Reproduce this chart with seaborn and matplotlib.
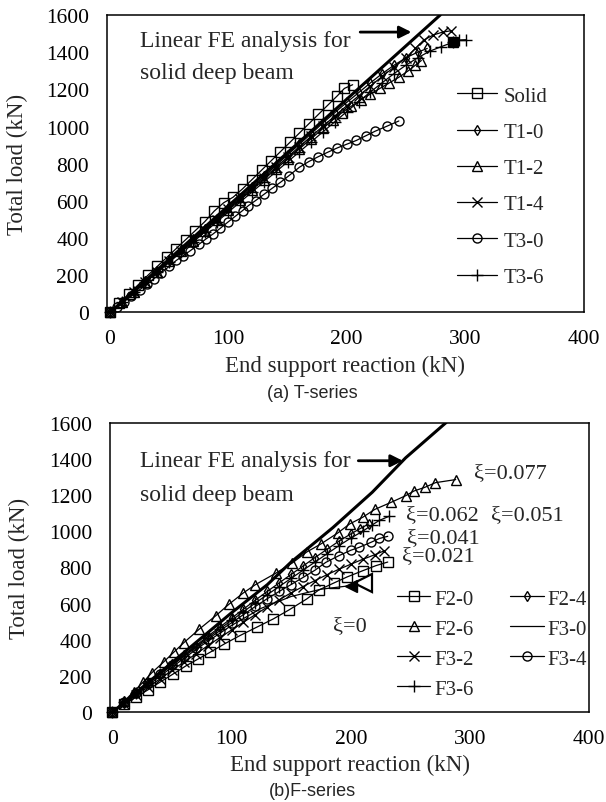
import matplotlib
matplotlib.use("Agg")
import matplotlib.pyplot as plt
import seaborn as sns
import pandas as pd

sns.set_theme(style="white")
plt.rcParams['font.family'] = ['Liberation Serif', 'DejaVu Serif']

# ---------------- T-series data ----------------
fe_top_x = [0, 279]
fe_top_y = [0, 1600]

solid_x = [0, 8, 16, 24, 32, 40, 48, 56, 64, 72, 80, 88, 96, 104, 112, 120, 128, 136, 144, 152, 160, 168, 176, 184, 192, 198, 205]
solid_y = [0, 50, 100, 150, 200, 248, 296, 344, 392, 440, 488, 545, 590, 620, 665, 715, 765, 815, 865, 915, 965, 1015, 1065, 1115, 1165, 1205, 1225]

t10_x = [0, 10, 20, 30, 40, 50, 60, 70, 80, 90, 100, 110, 120, 130, 140, 150, 160, 170, 180, 190, 200, 210, 220, 230, 240, 250, 260, 268]
t10_y = [0, 56, 112, 168, 224, 282, 338, 394, 450, 505, 562, 618, 675, 732, 790, 848, 905, 962, 1020, 1075, 1130, 1182, 1235, 1285, 1330, 1370, 1400, 1420]

t12_x = [0, 10, 20, 30, 40, 50, 60, 70, 80, 90, 100, 110, 120, 130, 140, 150, 160, 170, 180, 188, 196, 204, 212, 220, 228, 236, 244, 252, 258, 263]
t12_y = [0, 55, 110, 164, 220, 275, 330, 385, 440, 495, 550, 605, 660, 715, 770, 825, 880, 935, 990, 1035, 1075, 1110, 1145, 1175, 1205, 1235, 1265, 1300, 1330, 1355]

t14_x = [0, 10, 20, 30, 40, 50, 60, 70, 80, 90, 100, 110, 120, 130, 140, 150, 160, 170, 180, 190, 200, 210, 220, 230, 240, 250, 258, 265, 273, 281, 288]
t14_y = [0, 55, 110, 165, 220, 276, 332, 388, 444, 500, 556, 612, 668, 724, 780, 836, 892, 948, 1002, 1058, 1112, 1165, 1218, 1270, 1320, 1370, 1420, 1465, 1492, 1508, 1515]

t30_x = [0, 6, 12, 18, 25, 31, 37, 43, 50, 56, 62, 68, 75, 81, 87, 93, 100, 106, 112, 117, 123, 130, 137, 144, 151, 160, 168, 176, 184, 192, 200, 208, 216, 224, 234, 244]
t30_y = [0, 30, 59, 88, 122, 152, 181, 212, 248, 280, 306, 333, 366, 395, 422, 452, 488, 518, 548, 575, 602, 635, 668, 700, 735, 781, 812, 838, 862, 885, 905, 925, 950, 975, 1002, 1030]

t36_x = [0, 10, 20, 30, 40, 50, 60, 70, 80, 90, 100, 110, 120, 130, 140, 150, 160, 170, 180, 190, 200, 210, 220, 230, 240, 250, 260, 270, 280, 290, 295, 301]
t36_y = [0, 54, 108, 162, 216, 270, 324, 378, 432, 486, 540, 594, 648, 702, 756, 810, 864, 918, 972, 1026, 1080, 1134, 1186, 1236, 1285, 1330, 1370, 1405, 1430, 1454, 1465, 1467]

# ---------------- F-series data ----------------
fe_bot_x = [0, 50, 100, 130, 150, 185, 218, 246, 280]
fe_bot_y = [0, 275, 550, 705, 830, 1020, 1215, 1405, 1600]

f20_x = [0, 10, 20, 30, 40, 51, 62, 72, 82, 94, 107, 121, 135, 148, 163, 173, 186, 197, 210, 221, 231]
f20_y = [0, 45, 85, 125, 167, 212, 258, 295, 332, 378, 424, 470, 516, 565, 626, 675, 715, 748, 782, 810, 830]

f24_x = [0, 10, 20, 30, 40, 50, 60, 70, 80, 90, 100, 110, 120, 130, 140, 150, 160, 170, 180, 190, 200, 208, 215]
f24_y = [0, 54, 108, 160, 212, 265, 318, 368, 420, 470, 520, 570, 620, 668, 715, 762, 808, 855, 900, 945, 985, 1015, 1040]

f26_x = [0, 10, 18, 26, 33, 43, 52, 60, 73, 87, 98, 110, 120, 137, 151, 163, 175, 189, 199, 210, 220, 234, 246, 253, 262, 271, 288]
f26_y = [0, 62, 115, 168, 218, 278, 335, 385, 460, 535, 598, 660, 705, 768, 825, 885, 930, 990, 1040, 1077, 1120, 1160, 1196, 1222, 1242, 1268, 1285]

f30_x = [0, 25, 50, 75, 100, 125, 150, 175, 200, 210]
f30_y = [0, 125, 250, 370, 480, 575, 640, 680, 700, 715]

f32_x = [0, 10, 20, 30, 40, 50, 60, 70, 80, 90, 100, 110, 120, 130, 140, 150, 160, 170, 180, 190, 200, 210, 220, 228]
f32_y = [0, 48, 95, 140, 185, 232, 278, 322, 368, 412, 455, 498, 540, 582, 622, 660, 695, 728, 760, 790, 818, 845, 870, 892]

f34_x = [0, 10, 20, 30, 40, 50, 60, 70, 80, 90, 100, 110, 120, 130, 140, 150, 160, 170, 179, 190, 200, 207, 217, 224, 231]
f34_y = [0, 55, 108, 160, 210, 260, 308, 356, 403, 450, 495, 540, 585, 628, 668, 706, 745, 785, 828, 865, 895, 911, 939, 960, 972]

f36_x = [0, 10, 20, 30, 40, 50, 60, 70, 80, 90, 100, 110, 120, 130, 140, 150, 160, 170, 180, 190, 200, 210, 218, 224, 232]
f36_y = [0, 55, 110, 160, 212, 262, 313, 363, 412, 460, 508, 556, 604, 650, 695, 740, 785, 830, 875, 920, 962, 1000, 1035, 1060, 1082]

xi_labels = ["ξ=0.077", "ξ=0.062", "ξ=0.051", "ξ=0.041", "ξ=0.021", "ξ=0"]
xi_x = [303, 246, 318, 247, 243, 185]
xi_y = [1325, 1095, 1095, 966, 865, 479]

x_ticks = [0, 100, 200, 300, 400]
y_ticks = [0, 200, 400, 600, 800, 1000, 1200, 1400, 1600]

fig = plt.figure(figsize=(6.06, 8.03), dpi=100)
ax1 = fig.add_axes([0.1766, 0.6096, 0.7863, 0.3705])
ax2 = fig.add_axes([0.1815, 0.1115, 0.7909, 0.3611])

MS = 6.5
LW = 0.9


def series(ax, x, y, marker, label, ms=MS, lw=LW):
    df = pd.DataFrame({"x": x, "y": y})
    sns.lineplot(data=df, x="x", y="y", ax=ax, sort=False, estimator=None,
                 color="black", lw=lw, marker=marker if marker else None,
                 markersize=ms, markerfacecolor="none", markeredgecolor="black",
                 markeredgewidth=1.0, label=label, clip_on=False)


# top panel
series(ax1, solid_x, solid_y, "s", "Solid")
series(ax1, t10_x, t10_y, "d", "T1-0", ms=5.5)
series(ax1, t12_x, t12_y, "^", "T1-2", ms=7)
series(ax1, t14_x, t14_y, "x", "T1-4")
series(ax1, t30_x, t30_y, "o", "T3-0")
series(ax1, t36_x, t36_y, "+", "T3-6", ms=9)
sns.lineplot(x=fe_top_x, y=fe_top_y, ax=ax1, color="black", lw=2.2, legend=False)
ax1.plot([t36_x[-3]], [t36_y[-3]], marker="s", ms=6.5, color="black")

# bottom panel
series(ax2, f20_x, f20_y, "s", "F2-0")
series(ax2, f26_x, f26_y, "^", "F2-6", ms=7)
series(ax2, f32_x, f32_y, "x", "F3-2")
series(ax2, f36_x, f36_y, "+", "F3-6", ms=9)
series(ax2, f24_x, f24_y, "d", "F2-4", ms=5.5)
series(ax2, f30_x, f30_y, None, "F3-0")
series(ax2, f34_x, f34_y, "o", "F3-4")
sns.lineplot(x=fe_bot_x, y=fe_bot_y, ax=ax2, color="black", lw=2.2, legend=False)
ax2.plot([f30_x[-1]], [f30_y[-1]], marker="<", ms=13, mfc="white", mec="black", mew=1.6)
ax2.plot([f30_x[-2]], [f30_y[-2]], marker="<", ms=8, color="black")

for ax, xl in ((ax1, (-2.5, 400)), (ax2, (-1.9, 400))):
    ax.set_xlim(*xl)
    ax.set_ylim(0, 1600)
    ax.set_xticks(x_ticks)
    ax.set_yticks(y_ticks)
    ax.tick_params(axis="both", length=0, labelsize=15.5, colors="black")
    ax.tick_params(axis="x", pad=12)
    ax.tick_params(axis="y", pad=13)
    for s in ax.spines.values():
        s.set_color("black")
        s.set_linewidth(1.1)
    ax.set_xlabel("End support reaction (kN)", fontsize=16.5)
    ax.set_ylabel("Total load (kN)", fontsize=16.5)
    ax.xaxis.label.set_verticalalignment("center")
    ax.yaxis.label.set_verticalalignment("center")

ax1.xaxis.set_label_coords(0.5, -0.178)
ax1.yaxis.set_label_coords(-0.189, 0.5)
ax2.xaxis.set_label_coords(0.5, -0.178)
ax2.yaxis.set_label_coords(-0.188, 0.5)

# annotations
ax1.text(25, 1461, "Linear FE analysis for", fontsize=17, va="center", ha="left")
ax1.text(25, 1288, "solid deep beam", fontsize=17, va="center", ha="left")
ax1.annotate("", xy=(257, 1508), xytext=(209, 1508),
             arrowprops=dict(arrowstyle="-|>", lw=2, color="black", mutation_scale=18))
ax2.text(23, 1389, "Linear FE analysis for", fontsize=17, va="center", ha="left")
ax2.text(23, 1205, "solid deep beam", fontsize=17, va="center", ha="left")
ax2.annotate("", xy=(246, 1389), xytext=(204, 1389),
             arrowprops=dict(arrowstyle="-|>", lw=2, color="black", mutation_scale=18))
for t, xx, yy in zip(xi_labels, xi_x, xi_y):
    ax2.text(xx, yy, t, fontsize=16, va="center", ha="left")

# legends
leg1 = ax1.legend(loc="upper left", bbox_to_anchor=(457 / 606, 1 - 87 / 803),
                  bbox_transform=fig.transFigure, frameon=False, fontsize=15,
                  handlelength=1.9, handletextpad=0.35, labelspacing=0.8,
                  borderpad=0, borderaxespad=0)
leg2 = ax2.legend(loc="upper left", bbox_to_anchor=(397 / 606, 1 - 590 / 803),
                  bbox_transform=fig.transFigure, frameon=False, fontsize=15,
                  ncol=2, handlelength=1.6, handletextpad=0.2, labelspacing=0.5,
                  columnspacing=1.75, borderpad=0, borderaxespad=0)

fig.text(312 / 606, 1 - 394 / 803, "(a) T-series", ha="center", va="center",
         fontsize=13, family=["Liberation Sans", "DejaVu Sans"])
fig.text(312 / 606, 1 - 792 / 803, "(b)F-series", ha="center", va="center",
         fontsize=13, family=["Liberation Sans", "DejaVu Sans"])

fig.savefig("out.png", dpi=100)
